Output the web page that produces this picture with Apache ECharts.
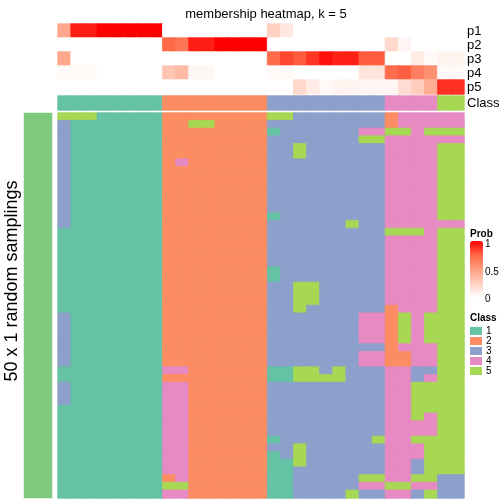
<!DOCTYPE html>
<html><head><meta charset="utf-8">
<script src="https://cdn.jsdelivr.net/npm/echarts@6/dist/echarts.min.js"></script>
<style>html,body{margin:0;padding:0;background:#fff}#c{width:504px;height:504px}</style>
</head><body><div id="c"></div>
<script>
// ---- data ----
const probRows = ['p1','p2','p3','p4','p5'];
const probP1 = [0.45,0.93,0.93,1,1,1,1,1, 0,0,0,0,0,0,0,0, 0.24,0.12,0,0,0,0,0,0,0, 0,0,0,0, 0,0];
const probP2 = [0,0,0,0,0,0,0,0, 0.74,0.68,0.93,0.93,1,1,1,1, 0,0,0,0,0,0,0,0,0, 0.2,0.05,0,0, 0,0];
const probP3 = [0.45,0,0,0,0,0,0,0, 0,0,0,0,0,0,0,0, 0.73,0.83,0.78,0.87,0.96,0.92,0.92,0.78,0.78, 0,0,0.1,0.03, 0.06,0.06];
const probP4 = [0.03,0.03,0.03,0,0,0,0,0, 0.3,0.35,0.04,0.04,0,0,0,0, 0.03,0.03,0,0,0,0,0,0.14,0.14, 0.73,0.77,0.64,0.56, 0.03,0.03];
const probP5 = [0,0,0,0,0,0,0,0, 0,0,0,0,0,0,0,0, 0,0,0.2,0.1,0.03,0.06,0.06,0.05,0.05, 0.05,0.18,0.26,0.42, 0.88,0.88];
const classTop = [1,1,1,1,1,1,1,1, 2,2,2,2,2,2,2,2, 3,3,3,3,3,3,3,3,3, 4,4,4,4, 5,5];
// 50 random samplings (rows) x 31 samples (columns), class per cell
const samplingRows = [
'5551111122222222553333333244444',
'3111111122552222333333333244444',
'3111111122222222133333344554555',
'3111111122222222333333355444444',
'3111111122222222335333333444455',
'3111111122222222335333333444455',
'3111111124222222333333333444455',
'3111111122222222333333333444455',
'3111111122222222333333333444455',
'3111111122222222333333333444455',
'3111111122222222333333333444455',
'3111111122222222333333333444455',
'3111111122222222333333333444455',
'3111111122222222133333333444455',
'3111111122222222333333533444444',
'1111111122222222333333333555455',
'1111111122222222333333333444455',
'1111111122222222333333333444455',
'1111111122222222333333333444455',
'1111111122222222333333333444455',
'1111111122222222133333333444455',
'1111111122222222133333333444455',
'1111111122222222335533333444455',
'1111111122222222335533333444455',
'1111111122222222335533333444455',
'1111111122222222335333333244455',
'3111111122222222333333344254555',
'3111111122222222333333344254555',
'3111111122222222333333344254555',
'3111111122222222333333344254555',
'3111111122222222333333333244455',
'3111111122222222333333344224455',
'3111111122222222333333344224455',
'1111111144222222115535333443355',
'1111111122222222115555333443455',
'3111111144222222333333333445555',
'3111111144222222333333333445555',
'3111111144222222333333333445555',
'1111111144222222333333333445555',
'1111111144222222333333333445455',
'1111111144222222333333333444455',
'1111111144222222333333333444455',
'1111111144222222133333335445555',
'1111111144222222335333333444555',
'1111111144222222135333333444555',
'1111111144222222115333333443555',
'1111111144222222113333333443555',
'1111111124222222113333355445533',
'1111111155222222113333344554433',
'1111111144222222113333533443533'
];
const classNames = ['1','2','3','4','5'];
const classColors = ['#66C2A5','#FC8D62','#8DA0CB','#E78AC3','#A6D854'];
const probColors = ['#FFFFFF','#FFCFBF','#FF9E81','#FF6746','#FF0000'];
const probTicks = ['1','0.5','0'];
const titleText = 'membership heatmap, k = 5';
const rowTitle = '50 x 1 random samplings';
const blockTitle = 'top 1000 rows';

// ---- build ----
const cols = classTop.map((_, i) => String(i + 1));
const probAll = [probP1, probP2, probP3, probP4, probP5];
const probData = [];
probAll.forEach((arr, r) => arr.forEach((v, c) => probData.push({
  value:[c, r, v], itemStyle:{borderColor: echarts.color.lerp(v, probColors), borderWidth:0.8}
})));
const classItem = (c, r, v) => ({value:[c, r, v], itemStyle:{borderColor: classColors[v - 1], borderWidth:0.8}});
const classData = classTop.map((v, c) => classItem(c, 0, v));
const mainData = [];
samplingRows.forEach((s, r) => s.split('').forEach((ch, c) => mainData.push(classItem(c, r, Number(ch)))));
const rowNames = samplingRows.map((_, i) => 'r' + (i + 1));

const FONT = 'Liberation Sans, Arial, Helvetica, sans-serif';
const hidX = (gi) => ({type:'category', data: cols, gridIndex: gi, show:false});
const chart = echarts.init(document.getElementById('c'), null, {renderer:'canvas'});
chart.setOption({
  animation:false,
  backgroundColor:'#ffffff',
  textStyle:{fontFamily:FONT},
  title:{text:titleText, left:261, top:3, textAlign:'center',
    textStyle:{fontSize:13, fontWeight:'normal', color:'#000', fontFamily:FONT}},
  grid:[
    {left:58, top:24, width:406, height:70},
    {left:58, top:96, width:406, height:14},
    {left:58, top:113, width:406, height:385},
    {left:24, top:113, width:28, height:385}
  ],
  xAxis:[hidX(0), hidX(1), hidX(2), {type:'category', data:['a'], gridIndex:3, show:false}],
  yAxis:[
    {type:'category', data:probRows, gridIndex:0, inverse:true, position:'right',
      axisLine:{show:false}, axisTick:{show:false},
      axisLabel:{fontSize:13, color:'#000', margin:3, interval:0, fontFamily:FONT}},
    {type:'category', data:['Class'], gridIndex:1, position:'right',
      axisLine:{show:false}, axisTick:{show:false},
      axisLabel:{fontSize:13, color:'#000', margin:3, interval:0, fontFamily:FONT}},
    {type:'category', data:rowNames, gridIndex:2, inverse:true, show:false},
    {type:'category', data:['b'], gridIndex:3, show:false}
  ],
  visualMap:[
    {type:'continuous', seriesIndex:0, min:0, max:1, orient:'vertical',
      left:470, top:241, itemWidth:13, itemHeight:56, padding:0, calculable:false,
      text:null, showLabel:false, hoverLink:false,
      inRange:{color:probColors}},
    {type:'piecewise', seriesIndex:[1,2], orient:'vertical', left:470, top:326, inverse:true,
      align:'left', itemWidth:12, itemHeight:8, itemGap:0, textGap:4, padding:0, itemSymbol:'rect',
      hoverLink:false, selectedMode:false,
      textStyle:{fontSize:10, color:'#000', lineHeight:8, fontFamily:FONT},
      pieces: classNames.map((n, i) => ({value: i + 1, label: n, color: classColors[i]}))}
  ],
  series:[
    {type:'heatmap', xAxisIndex:0, yAxisIndex:0, data:probData},
    {type:'heatmap', xAxisIndex:1, yAxisIndex:1, data:classData},
    {type:'heatmap', xAxisIndex:2, yAxisIndex:2, data:mainData},
    {type:'heatmap', xAxisIndex:3, yAxisIndex:3, data:[[0,0,1]], itemStyle:{color:'#7FC97F', borderWidth:0}}
  ],
  graphic:[
    {type:'text', left:470, top:229, style:{text:'Prob', font:'bold 10px ' + FONT, fill:'#000'}},
    {type:'text', left:470, top:313, style:{text:'Class', font:'bold 10px ' + FONT, fill:'#000'}},
    {type:'text', x:485, y:244, style:{text:probTicks[0], font:'10px ' + FONT, fill:'#000', verticalAlign:'middle'}},
    {type:'text', x:485, y:272, style:{text:probTicks[1], font:'10px ' + FONT, fill:'#000', verticalAlign:'middle'}},
    {type:'text', x:485, y:299, style:{text:probTicks[2], font:'10px ' + FONT, fill:'#000', verticalAlign:'middle'}},
    {type:'line', shape:{x1:470, y1:269, x2:472, y2:269}, style:{stroke:'#fff', lineWidth:1}},
    {type:'line', shape:{x1:481, y1:269, x2:483, y2:269}, style:{stroke:'#fff', lineWidth:1}},
    {type:'text', x:12, y:281, rotation:Math.PI/2,
      style:{text:rowTitle, font:'18px ' + FONT, fill:'#000', align:'center', verticalAlign:'middle'}},
    {type:'text', x:38, y:302, rotation:Math.PI/2,
      style:{text:blockTitle, font:'9px ' + FONT, fill:'#000', align:'center', verticalAlign:'middle'}}
  ]
});
</script></body></html>
